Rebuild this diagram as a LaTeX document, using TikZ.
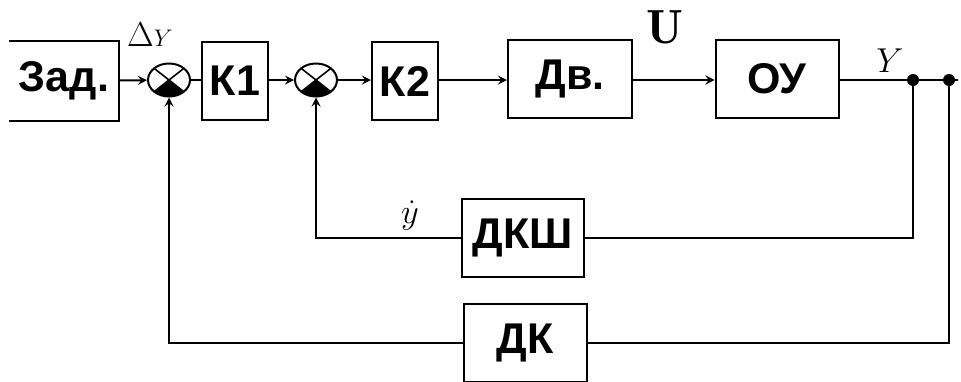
\documentclass[tikz,border=0pt]{standalone}
\usepackage{fontspec}
\setsansfont{Liberation Sans}
\usetikzlibrary{shapes.geometric}
\begin{document}
\begin{tikzpicture}[x=0.5pt,y=-0.5pt,>=stealth,line width=1pt,
  every node/.style={font=\sffamily\bfseries\fontsize{21.5}{24}\selectfont},
  blk/.style={draw,minimum height=39pt,inner sep=0pt},
  lbl/.style={font=\fontsize{17}{20}\selectfont},
  sumnode/.style={ellipse,draw,minimum width=21pt,minimum height=16.5pt,inner sep=0pt,
    path picture={
      \draw[line width=0.8pt] (path picture bounding box.north west) -- (path picture bounding box.south east)
        (path picture bounding box.north east) -- (path picture bounding box.south west);
      \fill (path picture bounding box.center) -- (path picture bounding box.south west)
        -- (path picture bounding box.south east) -- cycle;}}]
\useasboundingbox (0,0) rectangle (961,381);
\node[blk,draw=none,minimum width=54pt] (zad) at (64,81) {Зад.};
\draw (zad.north west) -- (zad.north east) -- (zad.south east) -- (zad.south west);
\node[sumnode] (s1) at (169,80) {};
\node[blk,minimum width=33pt] (k1) at (235,81) {К1};
\node[sumnode] (s2) at (316,80) {};
\node[blk,minimum width=33pt] (k2) at (405,81) {К2};
\node[blk,minimum width=62pt] (dv) at (570,79) {Дв.};
\node[blk,minimum width=61.5pt] (ou) at (777,79) {ОУ};
\node[blk,minimum width=61pt] (dksh) at (523,238) {ДКШ};
\node[blk,minimum width=61.5pt] (dk) at (525,343) {ДК};
\coordinate (p1) at (913,80);
\coordinate (p2) at (949,80);
\coordinate (out) at (958,80);
\node[lbl] (dy) at (150,35) {$\Delta{\scriptstyle Y}$};
\node[lbl,font=\fontsize{24}{26}\selectfont] (u) at (665,27) {$\mathbf{U}$};
\node[lbl,font=\fontsize{16}{18}\selectfont] (y) at (890,61) {$Y$};
\node[lbl,font=\fontsize{16}{18}\selectfont] (yd) at (410,216) {$\dot{y}$};
\draw[->] (zad) -- (s1);
\draw (s1) -- (s1 -| k1.west);
\draw[->] (k1.east |- s2) -- (s2);
\draw[->] (s2) -- (s2 -| k2.west);
\draw[->] (k2.east |- s2) -- (s2 -| dv.west);
\draw[->] (dv.east |- s2) -- (s2 -| ou.west);
\draw (ou.east |- out) -- (out);
\fill (p1) circle (3pt);
\fill (p2) circle (3pt);
\draw (p1) |- (dksh);
\draw[->] (dksh) -| (s2);
\draw (p2) |- (dk);
\draw[->] (dk) -| (s1);
\end{tikzpicture}
\end{document}
